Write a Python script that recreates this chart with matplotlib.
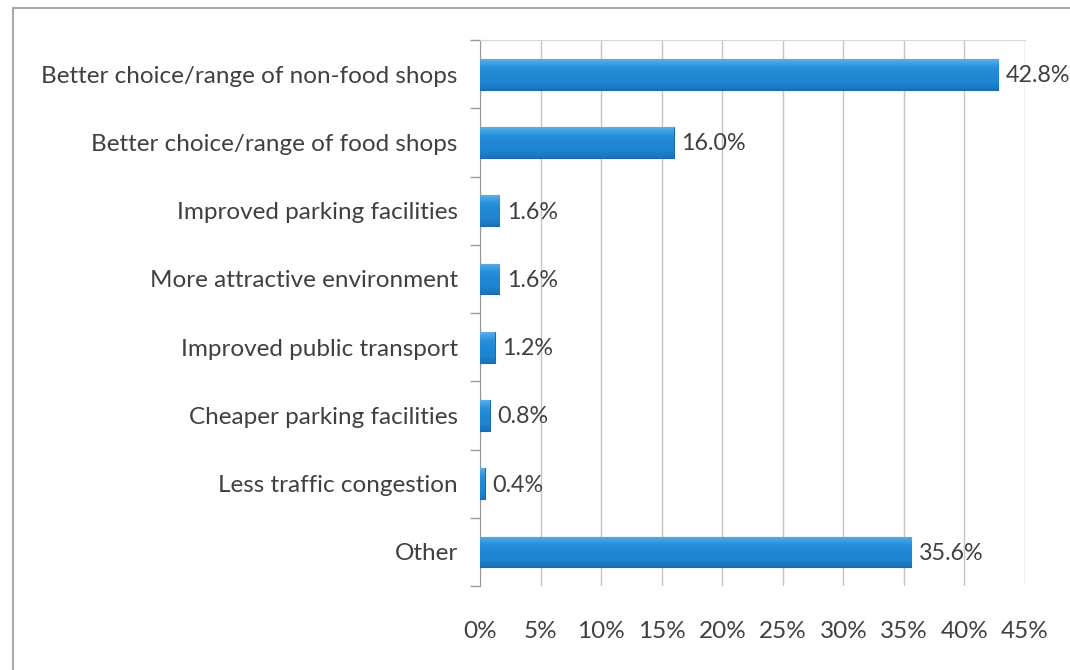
import matplotlib
matplotlib.use('Agg')
from matplotlib import pyplot as plt
from matplotlib.lines import Line2D
from matplotlib.colors import LinearSegmentedColormap
import numpy as np

# survey answers, top to bottom
categories = ['Better choice/range of non-food shops',
              'Better choice/range of food shops',
              'Improved parking facilities',
              'More attractive environment',
              'Improved public transport',
              'Cheaper parking facilities',
              'Less traffic congestion',
              'Other']
percent = [42.8, 16.0, 1.6, 1.6, 1.2, 0.8, 0.4, 35.6]
xticks = [0, 5, 10, 15, 20, 25, 30, 35, 40, 45]

plt.rcParams['font.family'] = ['Lato', 'DejaVu Sans']
textcolour = '#404040'
fs = 17.5

fig = plt.figure(figsize=(10.7, 6.7), dpi=100)
ax = fig.add_axes([0.4486, 0.1254, 0.5094, 0.8146])

y = np.arange(len(categories))
bars = ax.barh(y, percent, height=0.45, color='#1f87d3', edgecolor='#1a6aae',
               linewidth=0.8, zorder=3)

# vertical shading inside each bar: light top, darker bottom
shade = LinearSegmentedColormap.from_list(
    'barshade', ['#5aaee8', '#2a92dc', '#1f87d3', '#1f86d1', '#1a72bb'])
grad = np.linspace(0, 1, 64).reshape(-1, 1)
for b in bars:
    x0, y0 = b.get_x(), b.get_y()
    w, h = b.get_width(), b.get_height()
    im = ax.imshow(grad, cmap=shade, aspect='auto', zorder=4,
                   extent=(x0, x0 + w, y0 + h, y0), origin='upper')
    im.set_clip_path(b)

for yy, v in zip(y, percent):
    ax.text(v + 0.6, yy + 0.02, '{:.1f}%'.format(v), va='center', ha='left',
            fontsize=16.8, color=textcolour, zorder=5)

ax.set_ylim(len(categories) - 0.5, -0.5)
ax.set_xlim(0, 45)
ax.set_yticks(y)
ax.set_yticklabels(categories, fontsize=fs, color=textcolour)
ax.set_yticks(np.arange(len(categories) + 1) - 0.5, minor=True)
ax.tick_params(axis='y', which='major', length=0, pad=16)
ax.tick_params(axis='y', which='minor', length=7, direction='out',
               color='#9a9a9a', width=1)

ax.set_xticks(xticks)
ax.set_xticklabels(['{}%'.format(t) for t in xticks], fontsize=fs,
                   color=textcolour)
ax.tick_params(axis='x', length=0, pad=25)
ax.grid(axis='x', color='#c4c4c4', linewidth=1, zorder=0)

for side in ['right', 'bottom']:
    ax.spines[side].set_visible(False)
ax.spines['left'].set_color('#9a9a9a')
ax.spines['top'].set_color('#d6d6d6')

# chart frame, left and top edges
fig.add_artist(Line2D([0.0117, 0.0117], [0.0, 0.988], color='#a8a8a8',
                      linewidth=1.5, transform=fig.transFigure))
fig.add_artist(Line2D([0.0117, 1.0], [0.988, 0.988], color='#a8a8a8',
                      linewidth=1.5, transform=fig.transFigure))

fig.savefig('out.png', dpi=100, facecolor='white')
